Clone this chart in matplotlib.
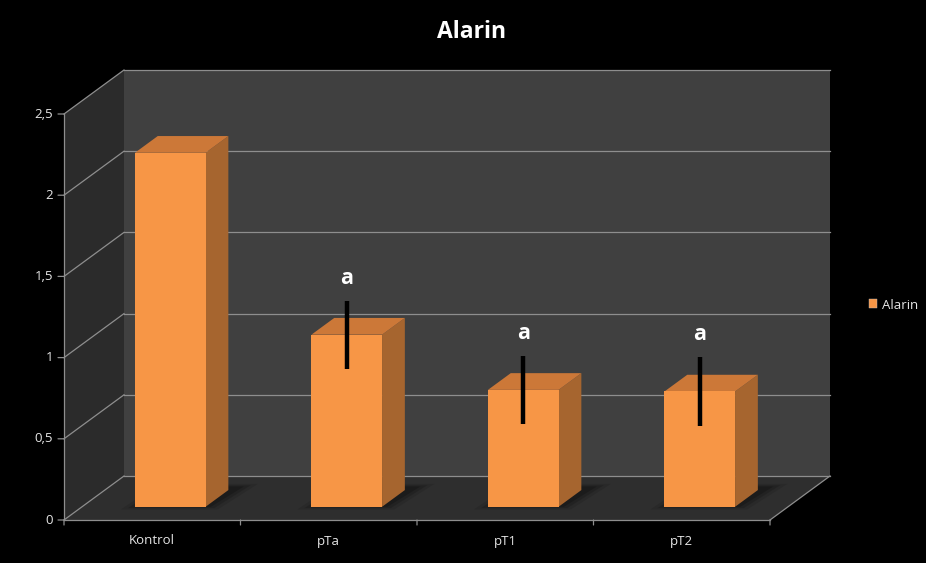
import matplotlib
matplotlib.use("Agg")
import matplotlib.pyplot as plt
from matplotlib.patches import Polygon, Patch

# ---- data ----
categories = ["Kontrol", "pTa", "pT1", "pT2"]
values = [2.18, 1.06, 0.72, 0.71]
errors = [None, 0.21, 0.21, 0.21]
sig_labels = ["", "a", "a", "a"]
yticks = [0, 0.5, 1, 1.5, 2, 2.5]
ytick_labels = ["0", "0,5", "1", "1,5", "2", "2,5"]
series_name = "Alarin"
title = "Alarin"

# ---- style / geometry ----
FONT = ["Open Sans", "DejaVu Sans"]
W, H = 926, 563
X0PX, X1PX, Y0PX = 64, 770, 520
PX_PER_CAT = (X1PX - X0PX) / len(categories)
PX_PER_VAL = 162.4
DX = 60 / PX_PER_CAT      # depth offset in category units
DY = 44 / PX_PER_VAL      # depth offset in value units
BAR_W = 0.4
D_FRONT, D_BACK = 0.30, 0.68
YMAX = yticks[-1]

BACK_WALL = "#404040"
SIDE_WALL = "#2b2b2b"
FLOOR = "#2e2e2e"
GRID = "#8e8e8e"
BAR_FRONT = "#F79646"
BAR_SIDE = "#A6652F"
BAR_TOP = "#CC7838"
TXT = "#e6e6e6"
TICK_FS = 9.5

fig = plt.figure(figsize=(W / 100, H / 100), dpi=100, facecolor="black")
ax = fig.add_axes([0, 0, 1, 1])
ax.set_facecolor("black")
ax.set_xlim(-0.5 - X0PX / PX_PER_CAT, -0.5 + (W - X0PX) / PX_PER_CAT)
ax.set_ylim((Y0PX - H) / PX_PER_VAL, Y0PX / PX_PER_VAL)
ax.axis("off")


def P(x, v, d):
    return (x + d * DX, v + d * DY)


n = len(categories)
xl, xr = -0.5, n - 0.5

# walls
ax.add_patch(Polygon([P(xl, 0, 1), P(xr, 0, 1), P(xr, YMAX, 1), P(xl, YMAX, 1)],
                     closed=True, fc=BACK_WALL, ec="none", zorder=1))
ax.add_patch(Polygon([P(xl, 0, 0), P(xl, 0, 1), P(xl, YMAX, 1), P(xl, YMAX, 0)],
                     closed=True, fc=SIDE_WALL, ec="none", zorder=1))
ax.add_patch(Polygon([P(xl, 0, 0), P(xr, 0, 0), P(xr, 0, 1), P(xl, 0, 1)],
                     closed=True, fc=FLOOR, ec="none", zorder=1))

# gridlines
for v, lab in zip(yticks, ytick_labels):
    a, b = P(xl, v, 1), P(xr, v, 1)
    ax.plot([a[0], b[0]], [a[1], b[1]], color=GRID, lw=0.9, zorder=2)
    a, b = P(xl, v, 0), P(xl, v, 1)
    ax.plot([a[0], b[0]], [a[1], b[1]], color=GRID, lw=0.9, zorder=2)
    ax.annotate("", xy=P(xl, v, 0), xytext=(-6, 0), textcoords="offset pixels",
                arrowprops=dict(arrowstyle="-", color=GRID, lw=0.9,
                                shrinkA=0, shrinkB=0), zorder=2)
    ax.annotate(lab, xy=P(xl, v, 0), xytext=(-11, 0),
                textcoords="offset pixels", ha="right", va="center",
                color=TXT, fontsize=TICK_FS, family=FONT)

# front axis lines
a, b = P(xl, 0, 0), P(xl, YMAX, 0)
ax.plot([a[0], b[0]], [a[1], b[1]], color=GRID, lw=0.9, zorder=2)
a, b = P(xl, 0, 0), P(xr, 0, 0)
ax.plot([a[0], b[0]], [a[1], b[1]], color=GRID, lw=0.9, zorder=2)
a, b = P(xr, 0, 0), P(xr, 0, 1)
ax.plot([a[0], b[0]], [a[1], b[1]], color=GRID, lw=0.9, zorder=2)
for k in range(n + 1):
    ax.annotate("", xy=P(xl + k, 0, 0), xytext=(0, -5), textcoords="offset pixels",
                arrowprops=dict(arrowstyle="-", color=GRID, lw=0.9,
                                shrinkA=0, shrinkB=0), zorder=2)

# bars
for i, (cat, val) in enumerate(zip(categories, values)):
    x0, x1 = i - BAR_W / 2, i + BAR_W / 2
    # soft shadow
    for grow, alpha in [(0.06, 0.10), (0.03, 0.15), (0.0, 0.2)]:
        ax.add_patch(Polygon([P(x0 - grow, 0, D_FRONT - grow), P(x1 + 0.03 + grow, 0, D_FRONT - grow),
                              P(x1 + 0.06 + grow, 0, D_BACK + 0.08 + grow),
                              P(x0 + 0.02 - grow, 0, D_BACK + 0.08 + grow)],
                             closed=True, fc="black", ec="none", alpha=alpha, zorder=3))
    # side
    ax.add_patch(Polygon([P(x1, 0, D_FRONT), P(x1, 0, D_BACK), P(x1, val, D_BACK), P(x1, val, D_FRONT)],
                         closed=True, fc=BAR_SIDE, ec="none", zorder=4))
    # top
    ax.add_patch(Polygon([P(x0, val, D_FRONT), P(x1, val, D_FRONT), P(x1, val, D_BACK), P(x0, val, D_BACK)],
                         closed=True, fc=BAR_TOP, ec="none", zorder=4))
    # front
    ax.add_patch(Polygon([P(x0, 0, D_FRONT), P(x1, 0, D_FRONT), P(x1, val, D_FRONT), P(x0, val, D_FRONT)],
                         closed=True, fc=BAR_FRONT, ec="none", zorder=5))
    # error bar
    if errors[i] is not None:
        lo = P(i, val - errors[i], D_FRONT)
        hi = P(i, val + errors[i], D_FRONT)
        ax.plot([lo[0], hi[0]], [lo[1], hi[1]], color="black", lw=3.2,
                solid_capstyle="butt", zorder=6)
        if sig_labels[i]:
            ax.annotate(sig_labels[i], xy=hi, xytext=(0, 12), textcoords="offset pixels",
                        ha="center", va="bottom", color="white", fontsize=15.5,
                        fontweight="bold", family=FONT, zorder=7)
    # category label
    ax.annotate(cat, xy=P(i, 0, 0), xytext=(0, -21), textcoords="offset pixels",
                ha="center", va="center", color=TXT, fontsize=TICK_FS, family=FONT)

# title
fig.text(472 / W, 1 - 32 / H, title, ha="center", va="center", color="white",
         fontsize=16.5, fontweight="bold", family=FONT)

# legend
leg = ax.legend(handles=[Patch(facecolor=BAR_FRONT, edgecolor="#c0c0c0", lw=0.3, label=series_name)],
                loc="center left", bbox_to_anchor=(857 / W, 1 - 305 / H), frameon=False,
                handlelength=0.65, handleheight=0.65, handletextpad=0.35,
                prop={"family": FONT, "size": TICK_FS})
for t in leg.get_texts():
    t.set_color(TXT)

fig.savefig("out.png", dpi=100, facecolor="black")
